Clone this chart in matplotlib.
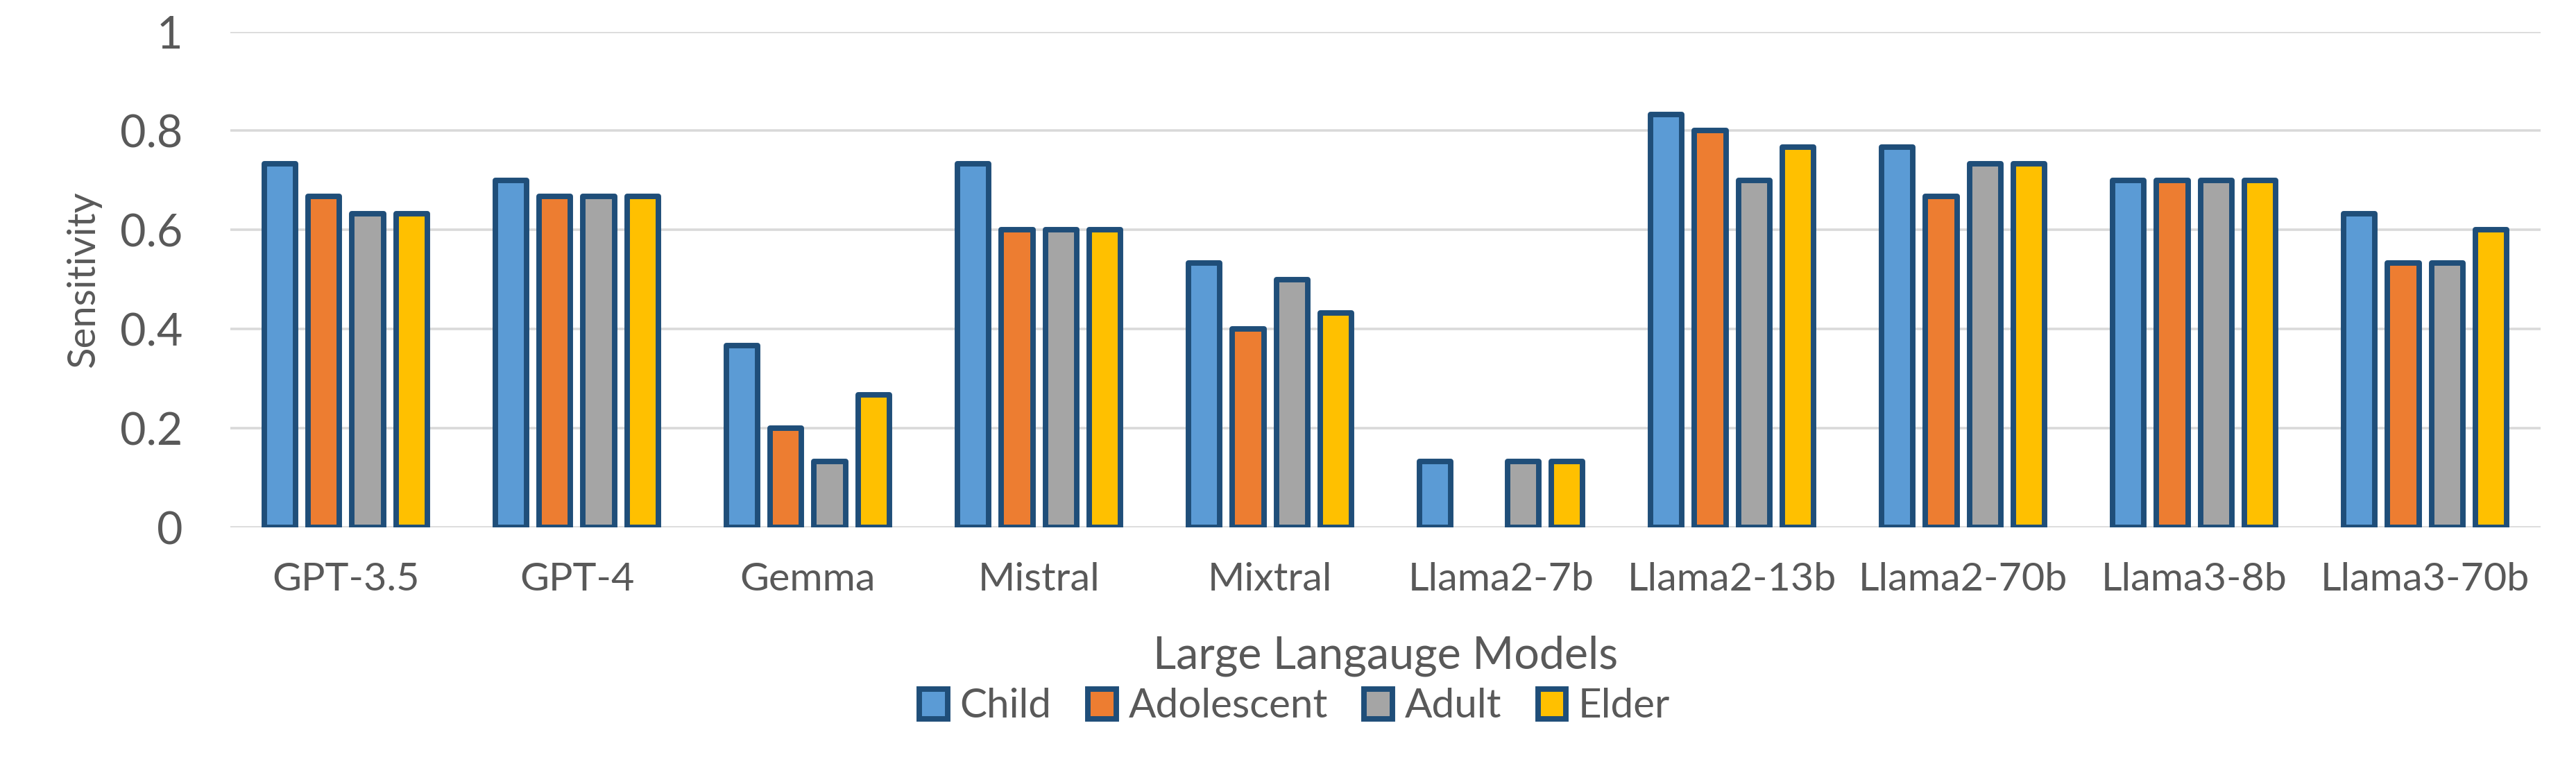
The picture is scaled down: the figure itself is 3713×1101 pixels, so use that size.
import numpy as np
import matplotlib
matplotlib.use("Agg")
import matplotlib.pyplot as plt
from matplotlib.patches import Patch

# values (multiples of 1/30)
models = ["GPT-3.5", "GPT-4", "Gemma", "Mistral", "Mixtral",
          "Llama2-7b", "Llama2-13b", "Llama2-70b", "Llama3-8b", "Llama3-70b"]
groups = ["Child", "Adolescent", "Adult", "Elder"]
child = [0.733, 0.700, 0.367, 0.733, 0.533, 0.133, 0.833, 0.767, 0.700, 0.633]
adolescent = [0.667, 0.667, 0.200, 0.600, 0.400, 0.000, 0.800, 0.667, 0.700, 0.533]
adult = [0.633, 0.667, 0.133, 0.600, 0.500, 0.133, 0.700, 0.733, 0.700, 0.533]
elder = [0.633, 0.667, 0.267, 0.600, 0.433, 0.133, 0.767, 0.733, 0.700, 0.600]
yticks = [0, 0.2, 0.4, 0.6, 0.8, 1]

colors = ["#5B9BD5", "#ED7D31", "#A5A5A5", "#FFC000"]
edge = "#1F4E79"
text_col = "#595959"

plt.rcParams["font.family"] = ["Lato", "DejaVu Sans"]

fig = plt.figure(figsize=(3713 / 300, 1101 / 300), dpi=300)
ax = fig.add_axes([0.0894, 0.3097, 0.8969, 0.6489])

x = np.arange(len(models))
slot = 0.19
width = 0.136
lw = 1.9
series = [child, adolescent, adult, elder]
for i, (vals, c) in enumerate(zip(series, colors)):
    # zero bars are not drawn in the original, so drop their outline
    lws = [0 if v == 0 else lw for v in vals]
    ax.bar(x + (i - 1.5) * slot, vals, width, color=c, edgecolor=edge,
           linewidth=lws, label=groups[i], zorder=3, joinstyle="round")

ax.set_xlim(-0.5, len(models) - 0.5)
ax.set_ylim(0, 1)
ax.set_yticks(yticks)
ax.set_yticklabels([f"{v:g}" for v in yticks])
ax.set_xticks(x)
ax.set_xticklabels(models)
ax.grid(axis="y", color="#D9D9D9", linewidth=0.85, zorder=0)
ax.set_axisbelow(True)
for s in ax.spines.values():
    s.set_visible(False)

ax.tick_params(axis="y", length=0, pad=16.5, labelsize=15.5, labelcolor=text_col)
ax.tick_params(axis="x", length=0, pad=12, labelsize=13.8, labelcolor=text_col)

ax.set_ylabel("Sensitivity", fontsize=13.5, color=text_col, va="center")
ax.yaxis.set_label_coords(-0.0634, 0.5)
ax.set_xlabel("Large Langauge Models", fontsize=15.5, color=text_col, va="center")
ax.xaxis.set_label_coords(0.5, -0.259)

handles = [Patch(facecolor=c, edgecolor=edge, linewidth=lw, joinstyle="round")
           for c in colors]
fig.legend(handles, groups, loc="center", bbox_to_anchor=(0.5026, 0.0754),
           ncol=4, frameon=False, fontsize=14, labelcolor=text_col,
           handlelength=0.7, handleheight=0.75, handletextpad=0.3,
           columnspacing=0.9)

fig.savefig("out.png", dpi=300)
